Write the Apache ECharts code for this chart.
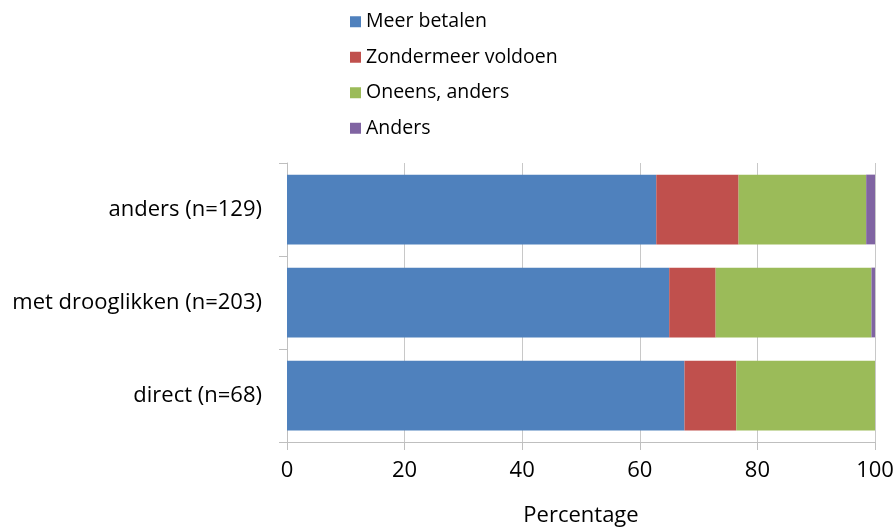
<!DOCTYPE html>
<html>
<head>
<meta charset="utf-8">
<script src="https://cdn.jsdelivr.net/npm/echarts@6/dist/echarts.min.js"></script>
<style>
  html, body { margin: 0; padding: 0; background: #ffffff; }
  #chart { width: 894px; height: 532px; }
</style>
</head>
<body>
<div id="chart"></div>
<script>
// Groups, listed bottom to top on the category axis
const categories = ['direct (n=68)', 'met drooglikken (n=203)', 'anders (n=129)'];

// Share of answers per group (percent)
const meerBetalen = [67.6, 65.0, 62.8];
const zondermeerVoldoen = [8.8, 7.9, 14.0];
const oneensAnders = [23.6, 26.5, 21.7];
const anders = [0.0, 0.6, 1.5];

const xTicks = { min: 0, max: 100, interval: 20 };

const seriesDefs = [
  { name: 'Meer betalen', data: meerBetalen, color: '#4F81BD' },
  { name: 'Zondermeer voldoen', data: zondermeerVoldoen, color: '#C0504D' },
  { name: 'Oneens, anders', data: oneensAnders, color: '#9BBB59' },
  { name: 'Anders', data: anders, color: '#8064A2' }
];

const font = '"Open Sans", "Noto Sans", sans-serif';
const chart = echarts.init(document.getElementById('chart'), null, { renderer: 'canvas' });

chart.setOption({
  animation: false,
  textStyle: { fontFamily: font, color: '#000' },
  legend: {
    orient: 'vertical',
    left: 345,
    top: 6,
    icon: 'rect',
    itemWidth: 11,
    itemHeight: 11,
    itemGap: 14,
    textStyle: { fontFamily: font, fontSize: 19.5, color: '#000', lineHeight: 21.5 },
    data: seriesDefs.map(s => s.name)
  },
  grid: {
    left: 287, right: 19, top: 163, bottom: 90,
    containLabel: false,
    outerBoundsMode: 'none'
  },
  xAxis: {
    type: 'value',
    min: xTicks.min,
    max: xTicks.max,
    interval: xTicks.interval,
    name: 'Percentage',
    nameLocation: 'middle',
    nameGap: 63,
    nameTextStyle: { fontFamily: font, fontSize: 22, color: '#000' },
    axisLine: { show: true, lineStyle: { color: '#bfbfbf', width: 1 } },
    axisTick: { show: true, length: 8, lineStyle: { color: '#bfbfbf' } },
    splitLine: { show: true, lineStyle: { color: '#c8c8c8', width: 1 } },
    axisLabel: { fontFamily: font, fontSize: 22, color: '#000', margin: 18 }
  },
  yAxis: {
    type: 'category',
    data: categories,
    axisLine: { show: true, lineStyle: { color: '#bfbfbf', width: 1 } },
    axisTick: { show: true, length: 8, lineStyle: { color: '#bfbfbf' } },
    axisLabel: { fontFamily: font, fontSize: 22, color: '#000', margin: 25 },
    splitLine: { show: false }
  },
  series: seriesDefs.map(s => ({
    name: s.name,
    type: 'bar',
    stack: 'total',
    data: s.data,
    barCategoryGap: '25%',
    itemStyle: { color: s.color },
    emphasis: { disabled: true }
  }))
});
</script>
</body>
</html>
